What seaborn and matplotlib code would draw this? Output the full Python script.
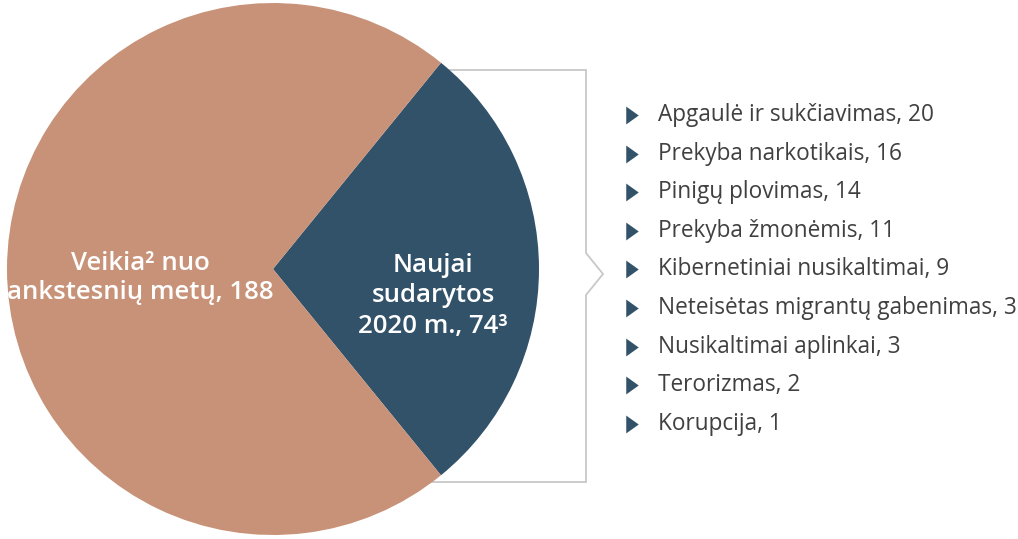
import matplotlib.pyplot as plt
import seaborn as sns

# main split
main_labels = ["Veikia² nuo\nankstesnių metų, 188", "Naujai\nsudarytos\n2020 m., 74³"]
main_values = [188, 74]

# breakdown of the new ones
categories = ["Apgaulė ir sukčiavimas", "Prekyba narkotikais", "Pinigų plovimas",
              "Prekyba žmonėmis", "Kibernetiniai nusikaltimai",
              "Neteisėtas migrantų gabenimas", "Nusikaltimai aplinkai",
              "Terorizmas", "Korupcija"]
counts = [20, 16, 14, 11, 9, 3, 3, 2, 1]

tan = "#C89278"
navy = "#32526A"

sns.set_theme(style="white")
plt.rcParams["font.family"] = ["Open Sans", "DejaVu Sans"]

fig = plt.figure(figsize=(10.18, 5.39), dpi=100)
ax = fig.add_axes([0, 0, 1, 1])

# pie, navy slice centred on the right
share = main_values[1] / sum(main_values) * 360
ax.pie([main_values[1], main_values[0]], colors=[navy, tan], startangle=-share / 2,
       center=(273, 269), radius=266, frame=True,
       wedgeprops=dict(linewidth=0), normalize=True)
ax.set_xlim(0, 1018)
ax.set_ylim(539, 0)
ax.set_aspect("equal")
ax.axis("off")

ax.text(140, 278, main_labels[0], color="white", fontsize=18.5, fontweight="semibold",
        ha="center", va="center", linespacing=1.2)
ax.text(433, 296, main_labels[1], color="white", fontsize=18.5, fontweight="semibold",
        ha="center", va="center", linespacing=1.3)

# bracket
bx = [420, 586, 586, 603, 586, 586, 420]
by = [70, 70, 253, 274, 295, 482, 482]
ax.plot(bx, by, color="#c8c8c8", lw=1.3, zorder=0, solid_joinstyle="miter")

# list
tri = [(-0.35, -0.5), (0.35, 0), (-0.35, 0.5), (-0.35, -0.5)]
y0, step = 115, 38.6
for i, (c, n) in enumerate(zip(categories, counts)):
    y = y0 + i * step
    ax.scatter([632], [y], marker=tri, s=165, color=navy, linewidths=0)
    ax.text(658, y, f"{c}, {n}", color="#404040", fontsize=16.3, ha="left", va="center")

fig.savefig("out.png", dpi=100)
